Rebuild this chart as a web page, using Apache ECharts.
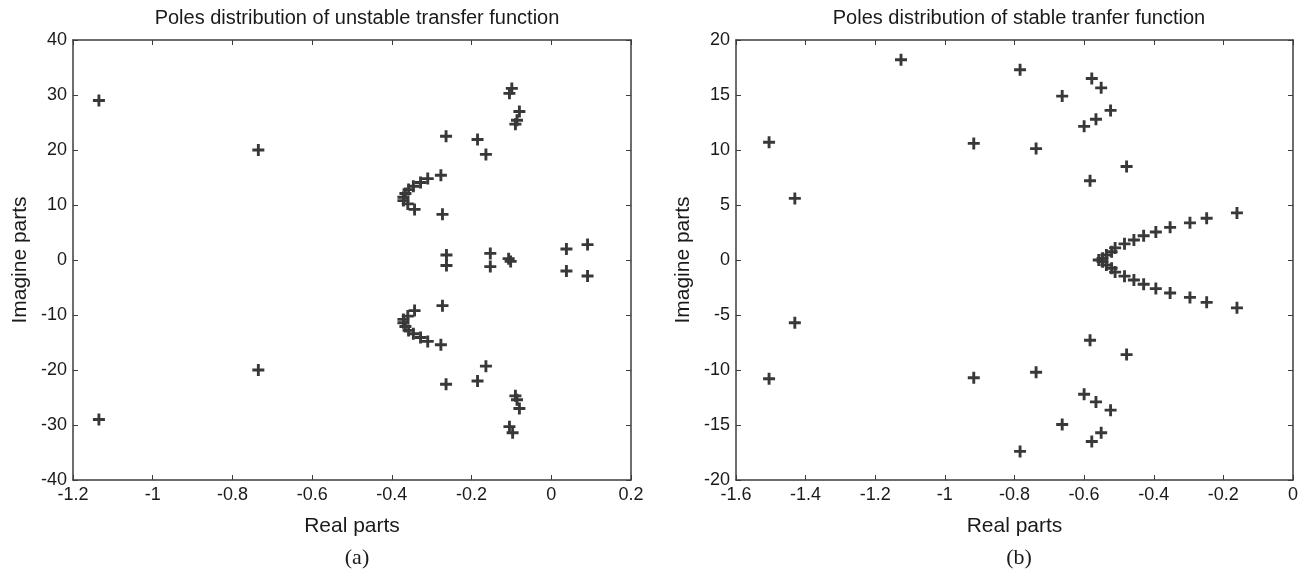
<!DOCTYPE html>
<html>
<head>
<meta charset="utf-8">
<script src="https://cdn.jsdelivr.net/npm/echarts@6/dist/echarts.min.js"></script>
<style>html,body{margin:0;padding:0;background:#fff;}#c{width:1309px;height:578px;}</style>
</head>
<body>
<div id="c"></div>
<script>
// (a) unstable transfer function poles: [real, imag]
const unstablePoles = [
  [-1.135, 29.0], [-1.135, -29.0],
  [-0.735, 20.0], [-0.735, -20.0],
  [-0.264, 22.5], [-0.264, -22.6],
  [-0.277, 15.4], [-0.277, -15.4],
  [-0.273, 8.3], [-0.273, -8.3],
  [-0.263, 0.9], [-0.263, -1.0],
  [-0.310, 14.8], [-0.310, -14.8],
  [-0.328, 14.1], [-0.328, -14.1],
  [-0.346, 13.4], [-0.346, -13.4],
  [-0.358, 12.8], [-0.358, -12.8],
  [-0.366, 12.1], [-0.366, -12.1],
  [-0.371, 11.4], [-0.371, -11.4],
  [-0.371, 10.8], [-0.371, -10.8],
  [-0.360, 10.2], [-0.360, -10.2],
  [-0.343, 9.2], [-0.343, -9.2],
  [-0.185, 21.9], [-0.185, -22.0],
  [-0.164, 19.2], [-0.164, -19.3],
  [-0.099, 31.2], [-0.097, -31.4],
  [-0.105, 30.3], [-0.105, -30.3],
  [-0.080, 27.0], [-0.080, -27.0],
  [-0.086, 25.4], [-0.086, -25.4],
  [-0.090, 24.7], [-0.090, -24.7],
  [-0.153, 1.2], [-0.153, -1.2],
  [-0.107, 0.25], [-0.102, -0.25],
  [0.038, 2.0], [0.038, -2.0],
  [0.091, 2.8], [0.091, -2.9]
];

// (b) stable transfer function poles: [real, imag]
const stablePoles = [
  [-1.126, 18.2],
  [-0.784, 17.3], [-0.784, -17.4],
  [-0.578, 16.5], [-0.578, -16.5],
  [-0.551, 15.65], [-0.551, -15.7],
  [-0.663, 14.9], [-0.663, -14.95],
  [-0.524, 13.6], [-0.524, -13.65],
  [-0.566, 12.8], [-0.566, -12.9],
  [-0.600, 12.15], [-0.600, -12.2],
  [-1.505, 10.7], [-1.505, -10.8],
  [-0.917, 10.6], [-0.917, -10.7],
  [-0.738, 10.13], [-0.738, -10.2],
  [-0.478, 8.5], [-0.478, -8.6],
  [-0.583, 7.2], [-0.583, -7.3],
  [-1.431, 5.6], [-1.431, -5.7],
  [-0.161, 4.28], [-0.161, -4.35],
  [-0.248, 3.8], [-0.248, -3.85],
  [-0.296, 3.38], [-0.296, -3.4],
  [-0.353, 2.97], [-0.353, -3.0],
  [-0.394, 2.55], [-0.394, -2.6],
  [-0.429, 2.2], [-0.429, -2.2],
  [-0.457, 1.82], [-0.457, -1.82],
  [-0.484, 1.47], [-0.484, -1.47],
  [-0.511, 1.1], [-0.511, -1.1],
  [-0.521, 0.75], [-0.521, -0.75],
  [-0.536, 0.45], [-0.536, -0.45],
  [-0.547, 0.15], [-0.547, -0.15],
  [-0.558, 0.0]
];

const titleA = 'Poles distribution of unstable transfer function';
const titleB = 'Poles distribution of stable tranfer function';
const xTicksA = {min: -1.2, max: 0.2, interval: 0.2};
const yTicksA = {min: -40, max: 40, interval: 10};
const xTicksB = {min: -1.6, max: 0, interval: 0.2};
const yTicksB = {min: -20, max: 20, interval: 5};

const plusPath = 'path://M3.8,0H6.2V3.8H10V6.2H6.2V10H3.8V6.2H0V3.8H3.8Z';
const lineColor = '#3c3c3c';
const txt = '#1a1a1a';
const font = 'Liberation Sans, Arial, sans-serif';

function fmt(v){ const r = Math.round(v*10)/10; return (Math.abs(r) < 1e-9 ? '0' : String(r)); }

function xAxisPair(idx, t){
  return [
    {type:'value', gridIndex: idx, min:t.min, max:t.max, interval:t.interval, position:'bottom',
     name:'Real parts', nameLocation:'middle', nameGap:36,
     nameTextStyle:{fontFamily:font, fontSize:21, color:txt},
     axisLine:{show:true, onZero:false, lineStyle:{color:lineColor, width:1.5}},
     axisTick:{show:true, inside:true, length:5, lineStyle:{color:lineColor}},
     axisLabel:{fontFamily:font, fontSize:18, color:txt, margin:6, formatter:fmt},
     splitLine:{show:false}},
    {type:'value', gridIndex: idx, min:t.min, max:t.max, interval:t.interval, position:'top',
     axisLine:{show:true, onZero:false, lineStyle:{color:lineColor, width:1.5}},
     axisTick:{show:true, inside:true, length:5, lineStyle:{color:lineColor}},
     axisLabel:{show:false}, splitLine:{show:false}}
  ];
}
function yAxisPair(idx, t){
  return [
    {type:'value', gridIndex: idx, min:t.min, max:t.max, interval:t.interval, position:'left',
     name:'Imagine parts', nameLocation:'middle', nameGap:42,
     nameTextStyle:{fontFamily:font, fontSize:21, color:txt},
     axisLine:{show:true, onZero:false, lineStyle:{color:lineColor, width:1.5}},
     axisTick:{show:true, inside:true, length:5, lineStyle:{color:lineColor}},
     axisLabel:{fontFamily:font, fontSize:18, color:txt, margin:6, formatter:fmt},
     splitLine:{show:false}},
    {type:'value', gridIndex: idx, min:t.min, max:t.max, interval:t.interval, position:'right',
     axisLine:{show:true, onZero:false, lineStyle:{color:lineColor, width:1.5}},
     axisTick:{show:true, inside:true, length:5, lineStyle:{color:lineColor}},
     axisLabel:{show:false}, splitLine:{show:false}}
  ];
}

const chart = echarts.init(document.getElementById('c'), null, {renderer:'canvas'});
chart.setOption({
  backgroundColor:'#ffffff',
  animation:false,
  title:[
    {text:titleA, left:352, top:3, textAlign:'center', textStyle:{fontFamily:font, fontSize:20, fontWeight:'normal', color:txt}},
    {text:titleB, left:1014, top:3, textAlign:'center', textStyle:{fontFamily:font, fontSize:20, fontWeight:'normal', color:txt}},
    {text:'(a)', left:352, top:542, textAlign:'center', textStyle:{fontFamily:'Liberation Serif, Times New Roman, serif', fontSize:22, fontWeight:'normal', color:txt}},
    {text:'(b)', left:1014, top:542, textAlign:'center', textStyle:{fontFamily:'Liberation Serif, Times New Roman, serif', fontSize:22, fontWeight:'normal', color:txt}}
  ],
  grid:[
    {left:73, top:40, width:558, height:440},
    {left:736, top:40, width:557, height:440}
  ],
  xAxis:[...xAxisPair(0, xTicksA), ...xAxisPair(1, xTicksB)],
  yAxis:[...yAxisPair(0, yTicksA), ...yAxisPair(1, yTicksB)],
  series:[
    {type:'scatter', xAxisIndex:0, yAxisIndex:0, data:unstablePoles, symbol:plusPath, symbolSize:12,
     itemStyle:{color:'#383838', opacity:1}},
    {type:'scatter', xAxisIndex:2, yAxisIndex:2, data:stablePoles, symbol:plusPath, symbolSize:12,
     itemStyle:{color:'#383838', opacity:1}}
  ]
});
</script>
</body>
</html>
